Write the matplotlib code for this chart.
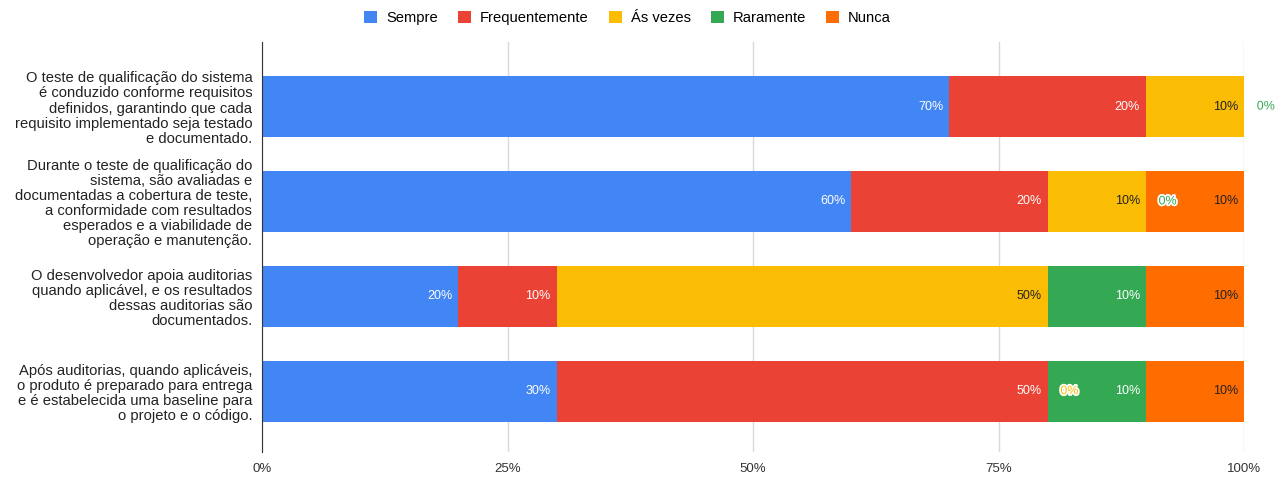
import matplotlib.pyplot as plt
import matplotlib.patheffects as pe
import numpy as np

plt.rcParams['font.family'] = ['Liberation Sans', 'DejaVu Sans']

# Perguntas (de cima para baixo)
questions = [
    "O teste de qualificação do sistema\né conduzido conforme requisitos\ndefinidos, garantindo que cada\nrequisito implementado seja testado\ne documentado.",
    "Durante o teste de qualificação do\nsistema, são avaliadas e\ndocumentadas a cobertura de teste,\na conformidade com resultados\nesperados e a viabilidade de\noperação e manutenção.",
    "O desenvolvedor apoia auditorias\nquando aplicável, e os resultados\ndessas auditorias são\ndocumentados.",
    "Após auditorias, quando aplicáveis,\no produto é preparado para entrega\ne é estabelecida uma baseline para\no projeto e o código.",
]

series = ["Sempre", "Frequentemente", "Ás vezes", "Raramente", "Nunca"]

# percentuais por resposta
sempre = [70, 60, 20, 30]
frequentemente = [20, 20, 10, 50]
as_vezes = [10, 10, 50, 0]
raramente = [0, 0, 10, 10]
nunca = [0, 10, 10, 10]

colors = ["#4285F4", "#EA4335", "#FBBC04", "#34A853", "#FF6D01"]
label_colors = ["white", "white", "#222222", "white", "#222222"]

values = [sempre, frequentemente, as_vezes, raramente, nunca]

fig = plt.figure(figsize=(12.82, 4.78), dpi=100)
ax = fig.add_axes([262 / 1282, 26 / 478, 982 / 1282, 410 / 478])

y = np.arange(len(questions))
left = np.zeros(len(questions))
zero_spots = set()

for name, vals, col, lcol in zip(series, values, colors, label_colors):
    vals = np.array(vals, dtype=float)
    ax.barh(y, vals, left=left, height=0.64, color=col, label=name, zorder=2)
    for i, v in enumerate(vals):
        end = left[i] + v
        if v > 0:
            ax.text(end - 0.6, y[i], f"{v:.0f}%", ha="right", va="center",
                    fontsize=9, color=lcol, zorder=4)
        else:
            # zero-width segment: label sits just past its position, with a halo
            key = (i, end)
            if key in zero_spots:
                continue
            zero_spots.add(key)
            ax.text(end + 1.3, y[i], "0%", ha="left", va="center",
                    fontsize=9, color=col, zorder=5, clip_on=False,
                    path_effects=[pe.withStroke(linewidth=2.5, foreground="white")])
    left += vals

ax.set_xlim(0, 100)
ax.set_ylim(3.64, -0.68)
ax.set_xticks([0, 25, 50, 75, 100])
ax.set_xticklabels(["0%", "25%", "50%", "75%", "100%"], fontsize=9.5, color="#333333")
ax.set_yticks(y)
ax.set_yticklabels(questions, fontsize=10.6, color="#222222", linespacing=1.1)
for lab in ax.get_yticklabels():
    lab.set_multialignment("right")
ax.tick_params(axis="both", length=0)
ax.tick_params(axis="x", pad=8)
ax.tick_params(axis="y", pad=7)

ax.grid(axis="x", color="#d9d9d9", linewidth=1, zorder=0)
ax.set_axisbelow(True)
for side in ["top", "right", "bottom"]:
    ax.spines[side].set_visible(False)
ax.spines["left"].set_color("#333333")
ax.spines["left"].set_zorder(3)

fig.legend(loc="upper center", bbox_to_anchor=(0.4895, 1.005), ncol=5, frameon=False,
           fontsize=10.6, handlelength=0.9, handleheight=0.9, handletextpad=0.6,
           columnspacing=1.35)

fig.savefig("out.png", dpi=100)
